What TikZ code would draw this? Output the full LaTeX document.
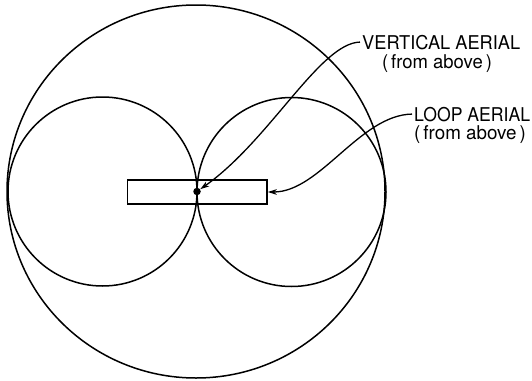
\documentclass[tikz,border=0pt]{standalone}
\usepackage{fontspec}
\setmainfont{TeX Gyre Heros}
\usetikzlibrary{arrows.meta}
\begin{document}
\begin{tikzpicture}[x=1pt,y=-1pt,
  ln/.style={line width=1.5pt},
  lbl/.style={font=\fontsize{19}{21}\selectfont, inner sep=0pt},
  arr/.style={line width=1.3pt, -{Stealth[length=9pt,width=5.5pt,inset=2.5pt]}},
  dotnode/.style={circle, fill=black, minimum size=7.5pt, inner sep=0pt},
  box/.style={draw, line width=1.5pt, rectangle, minimum width=139.5pt, minimum height=24pt, inner sep=0pt}]
\useasboundingbox (0,0) rectangle (532,380);
\draw[ln] (196,191.5) ellipse [x radius=189pt, y radius=186.5pt];
\draw[ln] (102.5,191.5) circle [radius=94.5pt];
\draw[ln] (291.5,192) circle [radius=94.5pt];
\node[box] (rect) at (197.2,192) {};
\node[dotnode] (dot) at (197,191.5) {};
\node[lbl, anchor=base west] (vlab1) at (362,49) {\resizebox{158pt}{\height}{VERTICAL AERIAL}};
\node[lbl, anchor=base] (vlab2) at (437,68) {\resizebox{110pt}{\height}{(\,from above\,)}};
\node[lbl, anchor=base west] (llab1) at (414,121) {\resizebox{116pt}{\height}{LOOP AERIAL}};
\node[lbl, anchor=base] (llab2) at (470,139.5) {\resizebox{112pt}{\height}{(\,from above\,)}};
\draw[arr] ([xshift=-2pt]vlab1.west) .. controls (320,43) and (270,140) .. (dot);
\draw[arr] ([xshift=-2pt]llab1.west) .. controls (360,115) and (320,192) .. (rect.east);
\end{tikzpicture}
\end{document}
